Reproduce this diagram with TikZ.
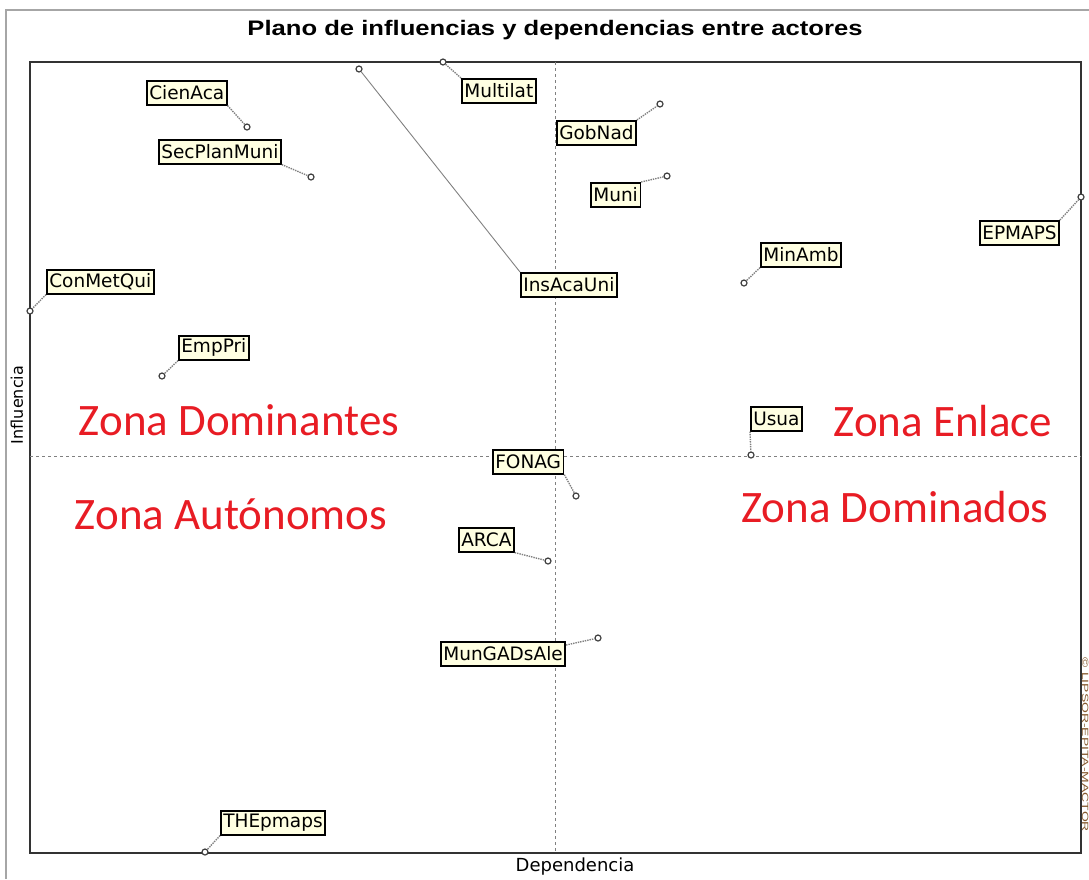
\documentclass[tikz,border=0pt]{standalone}
\usepackage{fontspec}
\setmainfont{Liberation Sans}
\newfontfamily\zonefont{Carlito}
\newfontfamily\tagfont{DejaVu Sans}
\usetikzlibrary{positioning}
\definecolor{tagfill}{RGB}{255,255,226}
\definecolor{zonered}{RGB}{232,28,36}
\tikzset{
  actor/.style={draw=black,line width=1.6pt,fill=tagfill,inner xsep=2.5pt,inner ysep=0pt,
    font=\tagfont\fontsize{18.5}{18.5}\selectfont,anchor=north west,minimum height=24pt},
  pt/.style={circle,draw=black!75,line width=1.2pt,fill=white,inner sep=0pt,minimum size=6pt},
  lead/.style={gray,line width=1.4pt,densely dotted},
  zone/.style={zonered,font=\zonefont\fontsize{45}{45}\selectfont}
}
\begin{document}
\begin{tikzpicture}[x=1pt,y=-1pt]
\useasboundingbox (0,0) rectangle (1089,879);
% window frame
\draw[gray!70,line width=2pt] (6,879) -- (6,10) -- (1089,10);
\node[font=\bfseries\fontsize{21}{21}\selectfont,xscale=1.22] (title) at (555,30) {Plano de influencias y dependencias entre actores};
% plot area
\draw[black!80,line width=1.6pt] (30,62) rectangle (1081,853);
\draw[gray,dashed] (555,62) -- (555,853);
\draw[gray,dashed] (30,456) -- (1081,456);
\node[rotate=90,font=\tagfont\fontsize{16}{16}\selectfont] (infl) at (17,405) {Influencia};
\node[font=\tagfont\fontsize{18}{18}\selectfont] (dep) at (575,867) {Dependencia};
\node[rotate=-90,inner sep=0pt,font=\fontsize{9}{9}\selectfont,text=brown!70!black] (copy) at (1085.3,745) {\scalebox{1.55}[1]{\textcopyright{} LIPSOR-EPITA-MACTOR}};
% zones
\node[zone] (zdom) at (239,420) {Zona Dominantes};
\node[zone] (zenl) at (943,421) {Zona Enlace};
\node[zone] (zaut) at (231,514) {Zona Autónomos};
\node[zone] (zdoa) at (895,507) {Zona Dominados};
% actors
\node[actor] (cienaca) at (146,80) {CienAca};
\node[actor] (secplan) at (158,139) {SecPlanMuni};
\node[actor] (multilat) at (461,78) {Multilat};
\node[actor] (insaca) at (520,272) {InsAcaUni};
\node[actor] (gobnad) at (556,120) {GobNad};
\node[actor] (muni) at (590,182) {Muni};
\node[actor] (epmaps) at (979,220) {EPMAPS};
\node[actor] (minamb) at (760,242) {MinAmb};
\node[actor] (conmet) at (46,269) {ConMetQui};
\node[actor] (emppri) at (178,335) {EmpPri};
\node[actor] (usua) at (750,406) {Usua};
\node[actor] (fonag) at (492,449) {FONAG};
\node[actor] (arca) at (458,527) {ARCA};
\node[actor] (mungad) at (440,641) {MunGADsAle};
\node[actor] (thep) at (220,810) {THEpmaps};
% points
\node[pt] (cienaca-p) at (247,127) {};
\node[pt] (secplan-p) at (311,177) {};
\node[pt] (multilat-p) at (443,62) {};
\node[pt] (insaca-p) at (359,69) {};
\node[pt] (gobnad-p) at (660,104) {};
\node[pt] (muni-p) at (667,176) {};
\node[pt] (epmaps-p) at (1081,197) {};
\node[pt] (minamb-p) at (744,283) {};
\node[pt] (conmet-p) at (30,311) {};
\node[pt] (emppri-p) at (162,376) {};
\node[pt] (usua-p) at (751,455) {};
\node[pt] (fonag-p) at (576,496) {};
\node[pt] (arca-p) at (548,561) {};
\node[pt] (mungad-p) at (598,638) {};
\node[pt] (thep-p) at (205,852) {};
% leaders
\draw[lead] (cienaca.south east) -- (cienaca-p);
\draw[lead] (secplan.south east) -- (secplan-p);
\draw[lead] (multilat.north west) -- (multilat-p);
\draw[gray,line width=0.9pt] (insaca.north west) -- (insaca-p);
\draw[lead] (gobnad.north east) -- (gobnad-p);
\draw[lead] (muni.north east) -- (muni-p);
\draw[lead] (epmaps.north east) -- (epmaps-p);
\draw[lead] (minamb.south west) -- (minamb-p);
\draw[lead] (conmet.south west) -- (conmet-p);
\draw[lead] (emppri.south west) -- (emppri-p);
\draw[lead] (usua.south west) -- (usua-p);
\draw[lead] (fonag.south east) -- (fonag-p);
\draw[lead] (arca.south east) -- (arca-p);
\draw[lead] ([yshift=-4pt]mungad.north east) -- (mungad-p);
\draw[lead] (thep.south west) -- (thep-p);
\end{tikzpicture}
\end{document}
